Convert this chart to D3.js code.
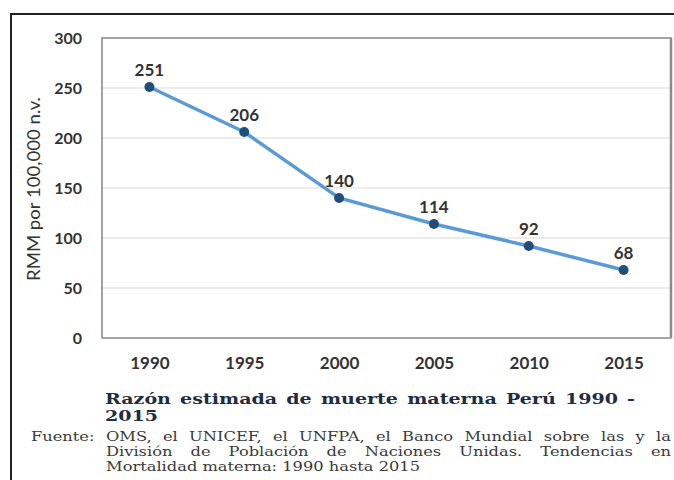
<!DOCTYPE html>
<html><head><meta charset="utf-8">
<script src="https://cdn.jsdelivr.net/npm/d3@7"></script>
<style>body{margin:0;background:#fff}svg{display:block}</style>
</head><body>
<svg id="c" width="674" height="480"></svg>
<script>
const years = ["1990","1995","2000","2005","2010","2015"];
const values = [251,206,140,114,92,68];
const yTicks = [0,50,100,150,200,250,300];
const yTitle = "RMM por 100,000 n.v.";
const captionLines = ["Razón estimada de muerte materna Perú 1990 -","2015"];
const sourceLabel = "Fuente:";
const sourceLines = ["OMS, el UNICEF, el UNFPA, el Banco Mundial sobre las y la","División de Población de Naciones Unidas. Tendencias en","Mortalidad materna: 1990 hasta 2015"];

const svg = d3.select("#c");
const m = {l:102, t:38, r:671, b:338};
const x = d3.scalePoint().domain(years).range([m.l, m.r]).padding(0.5);
const y = d3.scaleLinear().domain([0,300]).range([m.b, m.t]);
const sans = "Lato, 'Open Sans', sans-serif";

// outer frame
svg.append("path").attr("d","M11,480V14H674").attr("fill","none").attr("stroke","#222").attr("stroke-width",2);

// gridlines
svg.append("g").selectAll("line").data(yTicks.filter(d=>d>0&&d<300)).join("line")
  .attr("x1",m.l).attr("x2",m.r).attr("y1",d=>y(d)).attr("y2",d=>y(d))
  .attr("stroke","#d9d9d9").attr("stroke-width",1);

// plot border
svg.append("rect").attr("x",m.l).attr("y",m.t).attr("width",m.r-m.l).attr("height",m.b-m.t)
  .attr("fill","none").attr("stroke","#737373").attr("stroke-width",1.3);
svg.append("line").attr("x1",m.r).attr("x2",m.r).attr("y1",m.t).attr("y2",m.b).attr("stroke","#8c8c8c").attr("stroke-width",2.5);
svg.append("line").attr("x1",m.l).attr("x2",m.r).attr("y1",m.b).attr("y2",m.b).attr("stroke","#a6a6a6").attr("stroke-width",2);

// y axis
const ya = svg.append("g").attr("transform",`translate(${m.l-20},0)`)
  .call(d3.axisLeft(y).tickValues(yTicks).tickSize(0).tickPadding(0));
ya.select(".domain").remove();
ya.selectAll("text").attr("font-family",sans).attr("font-weight","bold").attr("font-size",16).attr("fill","#333");

// x axis
const xa = svg.append("g").attr("transform",`translate(0,${m.b+19})`)
  .call(d3.axisBottom(x).tickSize(0).tickPadding(0));
xa.select(".domain").remove();
xa.selectAll("text").attr("font-family",sans).attr("font-weight","bold").attr("font-size",17).attr("fill","#333");

// y title
svg.append("text").attr("transform",`translate(40,189) rotate(-90)`)
  .attr("text-anchor","middle").attr("font-family",sans).attr("font-size",17).attr("fill","#333")
  .attr("textLength",184).attr("lengthAdjust","spacingAndGlyphs").text(yTitle);

// line
const data = years.map((d,i)=>({year:d, v:values[i]}));
svg.append("path").datum(data).attr("fill","none").attr("stroke","#5b9bd5").attr("stroke-width",3.5)
  .attr("d", d3.line().x(d=>x(d.year)).y(d=>y(d.v)));
svg.append("g").selectAll("circle").data(data).join("circle")
  .attr("cx",d=>x(d.year)).attr("cy",d=>y(d.v)).attr("r",5).attr("fill","#1f4e79");
svg.append("g").selectAll("text").data(data).join("text")
  .attr("x",d=>x(d.year)).attr("y",d=>y(d.v)-11).attr("text-anchor","middle")
  .attr("font-family",sans).attr("font-weight","bold").attr("font-size",17).attr("fill","#333")
  .text(d=>d.v);

// text helpers
function setAttrs(t, a){ for(const k in a) t.attr(k,a[k]); return t; }
function natural(str, attrs){
  const t = setAttrs(svg.append("text").text(str), attrs);
  const w = t.node().getComputedTextLength(); t.remove(); return w;
}
function line(g, str, x0, x1, yy, attrs, s, justify){
  const words = str.split(" ");
  const ts = words.map(w=>setAttrs(g.append("text").attr("y",yy).text(w), attrs));
  const widths = ts.map(t=>t.node().getComputedTextLength()*s);
  ts.forEach((t,i)=>t.attr("textLength",widths[i]).attr("lengthAdjust","spacingAndGlyphs"));
  const spaceW = natural("a a",attrs)*s - natural("aa",attrs)*s;
  const gap = (justify && words.length>1) ? (x1-x0-d3.sum(widths))/(words.length-1) : spaceW;
  let cx = x0;
  ts.forEach((t,i)=>{ t.attr("x",cx); cx += widths[i]+gap; });
}
const capAttrs = {"font-family":"DejaVu Serif, serif","font-weight":"bold","font-size":15,"fill":"#1e2d42"};
const capS = 53/natural(captionLines[1], capAttrs);
const capG = svg.append("g");
line(capG, captionLines[0], 105, 635, 404, capAttrs, capS, true);
line(capG, captionLines[1], 105, 158, 421, capAttrs, capS, false);

const srcAttrs = {"font-family":"DejaVu Serif, serif","font-size":13,"fill":"#3a3a3a"};
const srcS = 314/natural(sourceLines[2], srcAttrs);
const srcG = svg.append("g");
line(srcG, sourceLabel, 31, 97, 441, srcAttrs, srcS, false);
line(srcG, sourceLines[0], 106, 671, 441, srcAttrs, srcS, true);
line(srcG, sourceLines[1], 106, 671, 456, srcAttrs, srcS, true);
line(srcG, sourceLines[2], 106, 420, 471, srcAttrs, srcS, false);
</script>
</body></html>
